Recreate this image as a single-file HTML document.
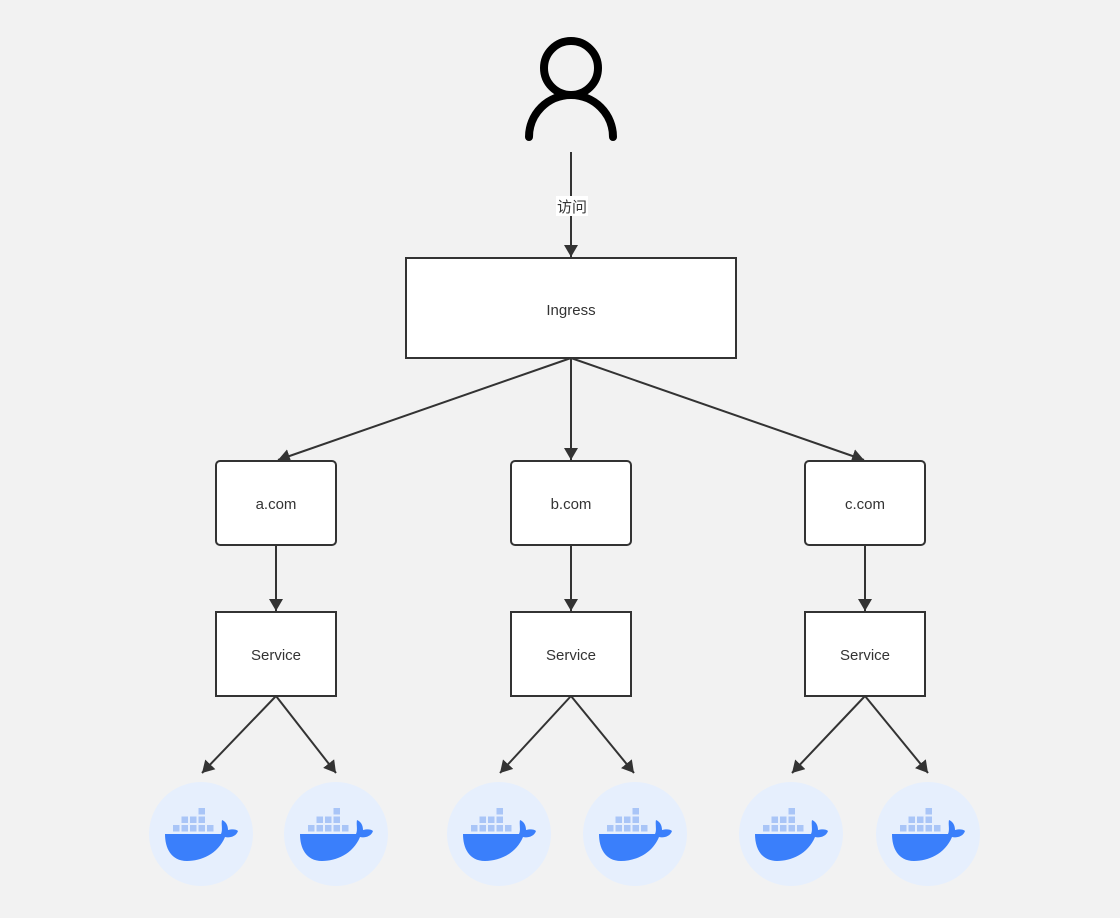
<!DOCTYPE html>
<html><head><meta charset="utf-8"><style>
html,body{margin:0;padding:0;background:#f2f2f2;}
svg{display:block;}
text{font-family:"Liberation Sans","Noto Sans CJK SC",sans-serif;font-size:15px;fill:#333;}
</style></head><body>
<svg width="1120" height="918" viewBox="0 0 1120 918" xmlns="http://www.w3.org/2000/svg">
<defs>
<marker id="ar" markerWidth="10" markerHeight="10" refX="9" refY="5" orient="auto" markerUnits="userSpaceOnUse" viewBox="0 0 10 10">
<path d="M0,0 L10,5 L0,10 Z" fill="#333"/>
</marker>
<marker id="ar2" markerWidth="12" markerHeight="14" refX="12" refY="7" orient="auto" markerUnits="userSpaceOnUse" viewBox="0 0 12 14">
<path d="M0,0 L12,7 L0,14 Z" fill="#333"/>
</marker>
<g id="whale">
<circle cx="0" cy="0" r="52" fill="#e6effd"/>
<g fill="#a9c5f7">
<rect x="-28" y="-9" width="6.5" height="6.5"/><rect x="-19.5" y="-9" width="6.5" height="6.5"/><rect x="-11" y="-9" width="6.5" height="6.5"/><rect x="-2.5" y="-9" width="6.5" height="6.5"/><rect x="6" y="-9" width="6.5" height="6.5"/>
<rect x="-19.5" y="-17.5" width="6.5" height="6.5"/><rect x="-11" y="-17.5" width="6.5" height="6.5"/><rect x="-2.5" y="-17.5" width="6.5" height="6.5"/>
<rect x="-2.5" y="-26" width="6.5" height="6.5"/>
</g>
<path d="M-36,0 L20,0 C22,-4 20,-10 21,-14 C26,-12 27,-7 27,-4 C31,-5 35,-5 37,-3 C35,3 28,4 24,3 C17,20 0,27 -14,27 C-30,27 -36,14 -36,0 Z" fill="#3a7ffb"/>
</g>
</defs>
<!-- person -->
<circle cx="571" cy="68" r="27" fill="none" stroke="#000" stroke-width="8"/>
<path d="M529,137 A42,42 0 0 1 613,137" fill="none" stroke="#000" stroke-width="8" stroke-linecap="round"/>
<line x1="571" y1="152" x2="571" y2="257" stroke="#333" stroke-width="2" marker-end="url(#ar2)"/>
<rect x="556" y="196" width="32" height="20" fill="#fff"/>
<text x="572" y="212" text-anchor="middle">访问</text>
<!-- Ingress -->
<rect x="406" y="258" width="330" height="100" fill="#fff" stroke="#333" stroke-width="2"/>
<text x="571" y="315" text-anchor="middle">Ingress</text>
<line x1="571" y1="358" x2="278" y2="460" stroke="#333" stroke-width="2" marker-end="url(#ar2)"/>
<line x1="571" y1="358" x2="571" y2="460" stroke="#333" stroke-width="2" marker-end="url(#ar2)"/>
<line x1="571" y1="358" x2="864" y2="460" stroke="#333" stroke-width="2" marker-end="url(#ar2)"/>
<!-- columns -->
<g>
<rect x="216" y="461" width="120" height="84" rx="4" fill="#fff" stroke="#333" stroke-width="2"/>
<text x="276" y="509" text-anchor="middle">a.com</text>
<line x1="276" y1="545" x2="276" y2="611" stroke="#333" stroke-width="2" marker-end="url(#ar2)"/>
<rect x="216" y="612" width="120" height="84" fill="#fff" stroke="#333" stroke-width="2"/>
<text x="276" y="660" text-anchor="middle">Service</text>
<line x1="276" y1="696" x2="202" y2="773" stroke="#333" stroke-width="2" marker-end="url(#ar2)"/>
<line x1="276" y1="696" x2="336" y2="773" stroke="#333" stroke-width="2" marker-end="url(#ar2)"/>
</g>
<g>
<rect x="511" y="461" width="120" height="84" rx="4" fill="#fff" stroke="#333" stroke-width="2"/>
<text x="571" y="509" text-anchor="middle">b.com</text>
<line x1="571" y1="545" x2="571" y2="611" stroke="#333" stroke-width="2" marker-end="url(#ar2)"/>
<rect x="511" y="612" width="120" height="84" fill="#fff" stroke="#333" stroke-width="2"/>
<text x="571" y="660" text-anchor="middle">Service</text>
<line x1="571" y1="696" x2="500" y2="773" stroke="#333" stroke-width="2" marker-end="url(#ar2)"/>
<line x1="571" y1="696" x2="634" y2="773" stroke="#333" stroke-width="2" marker-end="url(#ar2)"/>
</g>
<g>
<rect x="805" y="461" width="120" height="84" rx="4" fill="#fff" stroke="#333" stroke-width="2"/>
<text x="865" y="509" text-anchor="middle">c.com</text>
<line x1="865" y1="545" x2="865" y2="611" stroke="#333" stroke-width="2" marker-end="url(#ar2)"/>
<rect x="805" y="612" width="120" height="84" fill="#fff" stroke="#333" stroke-width="2"/>
<text x="865" y="660" text-anchor="middle">Service</text>
<line x1="865" y1="696" x2="792" y2="773" stroke="#333" stroke-width="2" marker-end="url(#ar2)"/>
<line x1="865" y1="696" x2="928" y2="773" stroke="#333" stroke-width="2" marker-end="url(#ar2)"/>
</g>
<use href="#whale" x="201" y="834"/>
<use href="#whale" x="336" y="834"/>
<use href="#whale" x="499" y="834"/>
<use href="#whale" x="635" y="834"/>
<use href="#whale" x="791" y="834"/>
<use href="#whale" x="928" y="834"/>
</svg>
</body></html>
